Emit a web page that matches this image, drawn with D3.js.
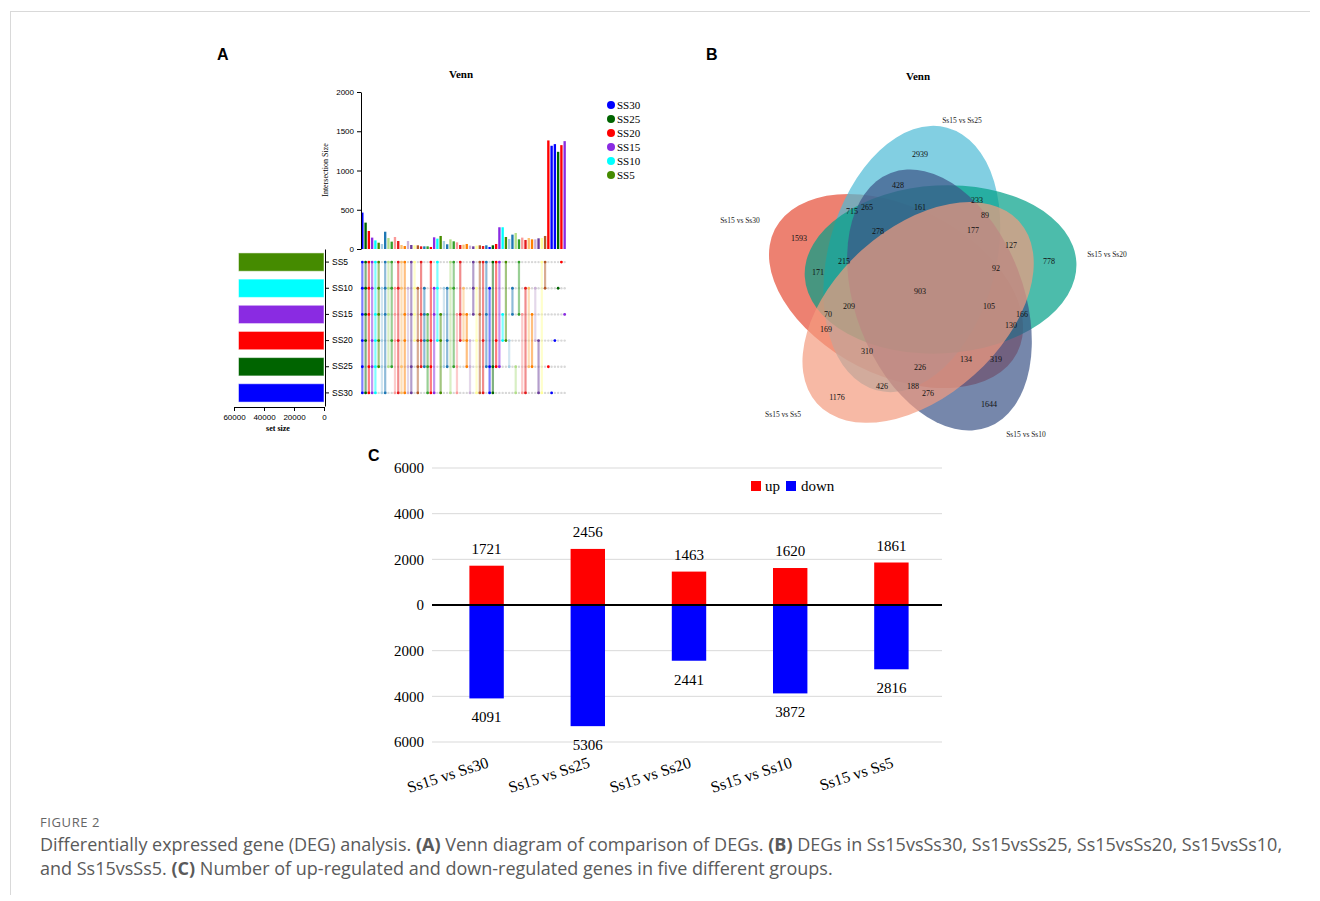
<!DOCTYPE html>
<html>
<head>
<meta charset="utf-8">
<script src="https://cdn.jsdelivr.net/npm/d3@7"></script>
<style>
body { margin: 0; background: #fff; }
svg { display: block; }
</style>
</head>
<body>
<div id="fig"></div>
<script>
// ---------- data: panel A (upset) ----------
const setNames = ["SS5", "SS10", "SS15", "SS20", "SS25", "SS30"];
const setSizes = [57000, 57000, 57000, 57000, 57000, 57000];
const legendNames = ["SS30", "SS25", "SS20", "SS15", "SS10", "SS5"];
const interSizes = [464, 336, 230, 145, 110, 80, 64, 220, 140, 94,
  153, 102, 51, 38, 102, 51, 47, 47, 34, 34,
  34, 26, 149, 132, 166, 102, 60, 123, 98, 85,
  51, 55, 64, 43, 34, 43, 47, 38, 47, 26,
  47, 64, 277, 277, 153, 128, 183, 204, 123, 145,
  115, 140, 123, 123, 136, 140, 166, 1383, 1315, 1336,
  1238, 1323, 1374];
// members of each intersection, digits index setNames
const interSets = ["012345", "01235", "01245", "01345", "02345", "01234", "12345",
  "0125", "0124", "0134", "1235", "0135", "0145", "0235", "1245", "0245", "0123",
  "1345", "0234", "1234", "2345", "0345",
  "125", "013", "235", "124", "134", "015", "014", "245", "023", "123",
  "234", "345", "012", "135", "025", "035", "024", "145", "045", "034",
  "04", "23", "03", "34", "12", "45", "02", "25", "15", "14", "24", "13", "35", "05", "01",
  "4", "5", "3", "1", "0", "2"];

// ---------- data: panel B (venn) ----------
const vennNames = ["Ss15 vs Ss25", "Ss15 vs Ss20", "Ss15 vs Ss10", "Ss15 vs Ss5", "Ss15 vs Ss30"];
const vennCounts = [2939, 428, 233, 715, 265, 161, 89, 278, 177, 1593, 127, 778, 215, 171, 92,
  903, 209, 105, 70, 166, 169, 130, 310, 134, 319, 226, 426, 188, 276, 1176, 1644];

// ---------- data: panel C (up / down) ----------
const groups = ["Ss15 vs Ss30", "Ss15 vs Ss25", "Ss15 vs Ss20", "Ss15 vs Ss10", "Ss15 vs Ss5"];
const upGenes = [1721, 2456, 1463, 1620, 1861];
const downGenes = [4091, 5306, 2441, 3872, 2816];
const cTicks = [-6000, -4000, -2000, 0, 2000, 4000, 6000];

// ---------- styles ----------
const setColors = ["#458b00", "#00ffff", "#8a2be2", "#ff0000", "#006400", "#0000ff"];
const legendColors = ["#0000ff", "#006400", "#ff0000", "#8a2be2", "#00ffff", "#458b00"];
const paired = ["#a6cee3", "#1f78b4", "#b2df8a", "#33a02c", "#fb9a99", "#e31a1c",
  "#fdbf6f", "#ff7f00", "#cab2d6", "#6a3d9a", "#ffff99", "#b15928"];
const barColors = ["#0000ff", "#006400", "#ff0000", "#8a2be2", "#00ffff", "#458b00"]
  .concat(paired, ["#e31a1c", "#1f78b4", "#33a02c", "#ff0000", "#8a2be2", "#00ffff", "#458b00"],
    paired, ["#e31a1c", "#1f78b4", "#0000ff", "#006400", "#ff0000", "#8a2be2", "#00ffff", "#458b00"],
    paired, ["#ff0000", "#0000ff", "#0000ff", "#006400", "#ff0000", "#8a2be2"]);
const vennColors = ["#4DBBD5", "#00A087", "#3C5488", "#F39B7F", "#E64B35"];
const vennOrder = [4, 0, 1, 2, 3];   // drawing order: Ss30 first, Ss5 last
// small per-ellipse corrections: dx, dy, extra rotation
const vennAdjust = [[0, 0, 0], [0, 0, 0], [0, 0, 0], [8, 4, -3], [3, 8, -6]];
// label positions relative to venn centre (layout, px)
const vennLabelXY = [[1,-130],[-21,-99],[58,-84],[-67,-73],[-52,-77],[1,-77],[66,-69],[-41,-53],[54,-54],
  [-120,-46],[92,-39],[130,-23],[-75,-23],[-101,-12],[77,-16],[1,7],[-70,22],[70,22],[-91,30],[103,30],
  [-93,45],[92,41],[-52,67],[47,75],[77,75],[1,83],[-37,102],[-6,102],[9,109],[-82,113],[70,120]];
const vennNameXY = [[43,-164],[188,-30],[107,150],[-136,130],[-179,-64]];

const serif = "'Liberation Serif','Times New Roman',serif";
const sans = "'Liberation Sans',Arial,sans-serif";

let svg = d3.select("#fig").append("svg").attr("width", 1320).attr("height", 901);

// frame lines
svg.append("line").attr("x1", 10).attr("x2", 1310).attr("y1", 11.5).attr("y2", 11.5).attr("stroke", "#d9d9d9");
svg.append("line").attr("x1", 10.5).attr("x2", 10.5).attr("y1", 11).attr("y2", 895).attr("stroke", "#d9d9d9");

// panel letters
[["A", 217, 60], ["B", 706, 60], ["C", 368, 461]].forEach(d => {
  svg.append("text").attr("x", d[1]).attr("y", d[2]).text(d[0])
    .style("font-family", sans).style("font-weight", "bold").style("font-size", "16px");
});

/**************************************************************
  panel A : upset plot
**************************************************************/
let gA = svg.append("g");
let xI = d3.scaleBand().domain(d3.range(interSizes.length)).range([361, 566]).paddingInner(0.28).paddingOuter(0.05);
let yI = d3.scaleLinear().domain([0, 2000]).range([249, 92]);
let rowY = d3.scaleBand().domain(setNames).range([249, 406]).paddingInner(0.3).paddingOuter(0.15);
let xS = d3.scaleLinear().domain([60000, 0]).range([234, 324]);

gA.append("text").attr("x", 461).attr("y", 78).attr("text-anchor", "middle").text("Venn")
  .style("font-family", serif).style("font-weight", "bold").style("font-size", "11px");

gA.selectAll("rect.ib").data(interSizes).enter().append("rect")
  .attr("x", (d, i) => xI(i)).attr("width", xI.bandwidth())
  .attr("y", d => yI(d)).attr("height", d => yI(0) - yI(d))
  .attr("fill", (d, i) => barColors[i]);

let axI = gA.append("g").attr("transform", "translate(361,0)")
  .call(d3.axisLeft(yI).tickValues([0, 500, 1000, 1500, 2000]).tickFormat(d3.format("d")).tickSize(4).tickSizeOuter(0));
axI.selectAll("text").style("font-family", sans).style("font-size", "8px");
gA.append("text").attr("transform", "translate(328,170) rotate(-90)").attr("text-anchor", "middle")
  .text("Intersection Size").style("font-family", serif).style("font-size", "8px");

// legend
legendNames.forEach((n, i) => {
  gA.append("circle").attr("cx", 611).attr("cy", 105 + i * 14).attr("r", 4).attr("fill", legendColors[i]);
  gA.append("text").attr("x", 617).attr("y", 105 + i * 14).attr("dy", "0.35em").text(n)
    .style("font-family", serif).style("font-size", "11px");
});

// matrix
let cx = i => xI(i) + xI.bandwidth() / 2;
let cy = k => rowY(setNames[k]) + rowY.bandwidth() / 2;
interSets.forEach((s, i) => {
  setNames.forEach((n, k) => {
    gA.append("circle").attr("cx", cx(i)).attr("cy", cy(k)).attr("r", 1.2).attr("fill", "#d8d8d8");
  });
});
interSets.forEach((s, i) => {
  let ks = s.split("").map(Number);
  let lo = d3.min(ks), hi = d3.max(ks);
  if (hi > lo) {
    gA.append("line").attr("x1", cx(i)).attr("x2", cx(i)).attr("y1", cy(lo)).attr("y2", cy(hi))
      .attr("stroke", barColors[i]).attr("stroke-width", 2.2).attr("stroke-opacity", 0.5);
  }
  ks.forEach(k => {
    gA.append("circle").attr("cx", cx(i)).attr("cy", cy(k)).attr("r", 1.4).attr("fill", barColors[i]);
  });
});

// set size bars
gA.selectAll("rect.sb").data(setSizes).enter().append("rect")
  .attr("x", d => xS(d)).attr("width", d => xS(0) - xS(d))
  .attr("y", (d, i) => rowY(setNames[i])).attr("height", rowY.bandwidth())
  .attr("fill", (d, i) => setColors[i]).attr("stroke", "#fff").attr("stroke-opacity", 0.5);

let axR = gA.append("g").attr("transform", "translate(325,0)")
  .call(d3.axisRight(rowY).tickSize(4).tickSizeOuter(0));
axR.selectAll("text").style("font-family", sans).style("font-size", "8.5px");

let axS = gA.append("g").attr("transform", "translate(0,407)")
  .call(d3.axisBottom(xS).tickValues([60000, 40000, 20000, 0]).tickFormat(d3.format("d")).tickSize(4).tickSizeOuter(0));
axS.selectAll("text").style("font-family", sans).style("font-size", "8px");
gA.append("text").attr("x", 278).attr("y", 431).attr("text-anchor", "middle").text("set size")
  .style("font-family", serif).style("font-size", "8px").style("font-weight", "bold");

/**************************************************************
  panel B : five-set venn
**************************************************************/
let gB = svg.append("g");
const vc = [919, 284], vd = 26, va = 136, vb = 84;
gB.append("text").attr("x", 918).attr("y", 80).attr("text-anchor", "middle").text("Venn")
  .style("font-family", serif).style("font-weight", "bold").style("font-size", "11px");

vennOrder.forEach(i => {
  let phi = -106 + 72 * i;
  let adj = vennAdjust[i];
  let ex = vc[0] + vd * Math.cos(phi * Math.PI / 180) + adj[0];
  let ey = vc[1] + vd * Math.sin(phi * Math.PI / 180) + adj[1];
  gB.append("ellipse").attr("cx", ex).attr("cy", ey).attr("rx", va).attr("ry", vb)
    .attr("transform", "rotate(" + (phi + 31 + adj[2]) + "," + ex + "," + ey + ")")
    .attr("fill", vennColors[i]).attr("fill-opacity", 0.7);
});
vennNames.forEach((n, i) => {
  gB.append("text").attr("x", vc[0] + vennNameXY[i][0]).attr("y", vc[1] + vennNameXY[i][1])
    .attr("dy", "0.35em").attr("text-anchor", "middle").text(n)
    .style("font-family", serif).style("font-size", "7.5px").style("fill", "#222");
});
vennCounts.forEach((v, i) => {
  gB.append("text").attr("x", vc[0] + vennLabelXY[i][0]).attr("y", vc[1] + vennLabelXY[i][1])
    .attr("dy", "0.35em").attr("text-anchor", "middle").text(v)
    .style("font-family", serif).style("font-size", "8px").style("fill", "#111");
});

/**************************************************************
  panel C : up / down bars
**************************************************************/
let gC = svg.append("g");
let xC = d3.scaleBand().domain(groups).range([436, 942]).paddingInner(0.66).paddingOuter(0.33);
let yC = d3.scaleLinear().domain([-6000, 6000]).range([742, 468]);

gC.selectAll("line.grid").data(cTicks).enter().append("line")
  .attr("x1", 432).attr("x2", 942).attr("y1", d => yC(d)).attr("y2", d => yC(d))
  .attr("stroke", d => d == 0 ? "#000" : "#d9d9d9").attr("stroke-width", d => d == 0 ? 2 : 1);
gC.selectAll("text.tick").data(cTicks).enter().append("text")
  .attr("x", 424).attr("y", d => yC(d)).attr("dy", "0.35em").attr("text-anchor", "end")
  .text(d => Math.abs(d)).style("font-family", serif).style("font-size", "15px");

gC.selectAll("rect.up").data(upGenes).enter().append("rect")
  .attr("x", (d, i) => xC(groups[i])).attr("width", xC.bandwidth())
  .attr("y", d => yC(d)).attr("height", d => yC(0) - yC(d)).attr("fill", "#ff0000");
gC.selectAll("rect.dn").data(downGenes).enter().append("rect")
  .attr("x", (d, i) => xC(groups[i])).attr("width", xC.bandwidth())
  .attr("y", yC(0)).attr("height", d => yC(-d) - yC(0)).attr("fill", "#0000ff");
// redraw zero line on top
gC.append("line").attr("x1", 432).attr("x2", 942).attr("y1", yC(0)).attr("y2", yC(0))
  .attr("stroke", "#000").attr("stroke-width", 2);

gC.selectAll("text.up").data(upGenes).enter().append("text")
  .attr("x", (d, i) => xC(groups[i]) + xC.bandwidth() / 2).attr("y", d => yC(d) - 12)
  .attr("text-anchor", "middle").text(d => d).style("font-family", serif).style("font-size", "15px");
gC.selectAll("text.dn").data(downGenes).enter().append("text")
  .attr("x", (d, i) => xC(groups[i]) + xC.bandwidth() / 2).attr("y", d => yC(-d) + 24)
  .attr("text-anchor", "middle").text(d => d).style("font-family", serif).style("font-size", "15px");

groups.forEach(g => {
  let x = xC(g) + xC.bandwidth() / 2 + 3;
  gC.append("text").attr("transform", "translate(" + x + ",767) rotate(-18)")
    .attr("text-anchor", "end").text(g).style("font-family", serif).style("font-size", "16px");
});

// legend
gC.append("rect").attr("x", 751).attr("y", 481).attr("width", 10).attr("height", 10).attr("fill", "#ff0000");
gC.append("text").attr("x", 765).attr("y", 491).text("up").style("font-family", serif).style("font-size", "15px");
gC.append("rect").attr("x", 786).attr("y", 481).attr("width", 10).attr("height", 10).attr("fill", "#0000ff");
gC.append("text").attr("x", 801).attr("y", 491).text("down").style("font-family", serif).style("font-size", "15px");

/**************************************************************
  caption
**************************************************************/
const capFont = "'Open Sans','Noto Sans',sans-serif";
svg.append("text").attr("x", 40).attr("y", 827).text("FIGURE 2")
  .style("font-family", capFont).style("font-size", "13px").style("letter-spacing", "0.6px").style("fill", "#666");
const capLines = [
  [["Differentially expressed gene (DEG) analysis. ", 0], ["(A)", 1], [" Venn diagram of comparison of DEGs. ", 0],
   ["(B)", 1], [" DEGs in Ss15vsSs30, Ss15vsSs25, Ss15vsSs20, Ss15vsSs10,", 0]],
  [["and Ss15vsSs5. ", 0], ["(C)", 1], [" Number of up-regulated and down-regulated genes in five different groups.", 0]]
];
capLines.forEach((ln, j) => {
  let t = svg.append("text").attr("x", 40).attr("y", 851 + j * 24)
    .style("font-family", capFont).style("font-size", "18px").style("fill", "#5a5a5a");
  ln.forEach(p => t.append("tspan").text(p[0]).style("font-weight", p[1] ? "bold" : "normal"));
});
</script>
</body>
</html>
